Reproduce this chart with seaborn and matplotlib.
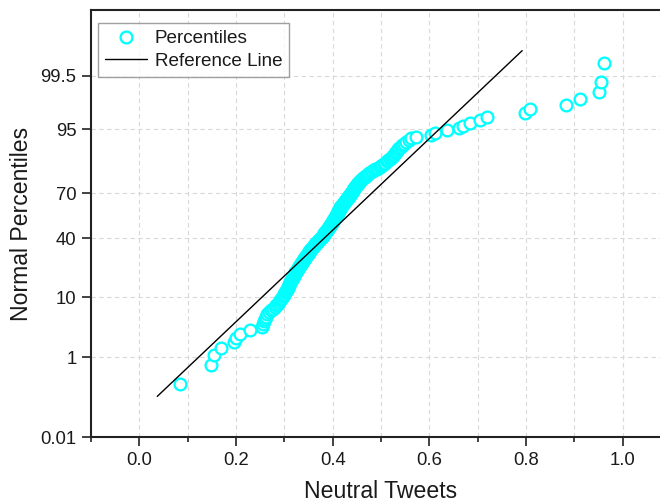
import numpy as np
import pandas as pd
import matplotlib
matplotlib.use("Agg")
import matplotlib.pyplot as plt
import seaborn as sns
from statistics import NormalDist
from matplotlib.ticker import MultipleLocator
from matplotlib.lines import Line2D

neutral_values = [
    0.085, 0.148, 0.155, 0.168, 0.195, 0.201, 0.209, 0.229,
    0.253, 0.256, 0.258, 0.260, 0.262, 0.265, 0.268, 0.272, 0.276, 0.280, 0.283, 0.286,
    0.289, 0.291, 0.293, 0.295, 0.297, 0.299, 0.300, 0.302, 0.303, 0.305,
    0.306, 0.307, 0.308, 0.309, 0.310, 0.311, 0.312, 0.313, 0.314, 0.315,
    0.316, 0.317, 0.318, 0.319, 0.320, 0.321, 0.322, 0.323, 0.324, 0.326,
    0.327, 0.328, 0.329, 0.330, 0.331, 0.332, 0.333, 0.334, 0.335, 0.336,
    0.337, 0.338, 0.339, 0.340, 0.341, 0.342, 0.343, 0.344, 0.345, 0.346,
    0.347, 0.348, 0.349, 0.350, 0.351, 0.352, 0.353, 0.354, 0.355, 0.356,
    0.358, 0.359, 0.360, 0.361, 0.362, 0.363, 0.364, 0.366, 0.367, 0.368,
    0.369, 0.370, 0.371, 0.372, 0.374, 0.375, 0.376, 0.377, 0.378, 0.379,
    0.380, 0.381, 0.382, 0.383, 0.384, 0.385, 0.386, 0.387, 0.388, 0.389,
    0.390, 0.391, 0.391, 0.392, 0.393, 0.394, 0.394, 0.395, 0.396, 0.397,
    0.398, 0.398, 0.399, 0.400, 0.401, 0.401, 0.402, 0.403, 0.404, 0.404,
    0.405, 0.406, 0.406, 0.407, 0.408, 0.408, 0.409, 0.410, 0.410, 0.411,
    0.412, 0.413, 0.413, 0.414, 0.415, 0.416, 0.416, 0.417, 0.418, 0.419,
    0.420, 0.421, 0.422, 0.423, 0.424, 0.425, 0.426, 0.427, 0.428, 0.429,
    0.430, 0.431, 0.432, 0.433, 0.434, 0.435, 0.436, 0.437, 0.438, 0.439,
    0.440, 0.441, 0.442, 0.443, 0.444, 0.445, 0.446, 0.447, 0.448, 0.450,
    0.451, 0.452, 0.453, 0.455, 0.456, 0.457, 0.459, 0.460, 0.462, 0.464,
    0.466, 0.468, 0.470, 0.473, 0.476, 0.479, 0.482, 0.485, 0.488, 0.491,
    0.494, 0.497, 0.500, 0.503, 0.506, 0.509, 0.512, 0.515, 0.518, 0.521,
    0.523, 0.525, 0.527, 0.529, 0.531, 0.533, 0.535, 0.538, 0.541, 0.544,
    0.548, 0.552, 0.557, 0.563, 0.572,
    0.603, 0.612, 0.636, 0.662, 0.670, 0.685, 0.705, 0.719,
    0.797, 0.809, 0.883, 0.912, 0.952, 0.955, 0.962,
]

# Reference line end points (x value, percentile)
ref_line_x = [0.037, 0.792]
ref_line_pct = [0.13, 99.87]

# Axis ticks
x_ticks = [0.0, 0.2, 0.4, 0.6, 0.8, 1.0]
x_tick_labels = ["0.0", "0.2", "0.4", "0.6", "0.8", "1.0"]
y_tick_pct = [0.01, 1, 10, 40, 70, 95, 99.5]
y_tick_labels = ["0.01", "1", "10", "40", "70", "95", "99.5"]
y_limits_pct = [0.01, 99.99]

legend_labels = ["Percentiles", "Reference Line"]

nd = NormalDist()


def probit(pct):
    return np.array([nd.inv_cdf(v / 100.0) for v in np.atleast_1d(pct)])


sns.set_theme(style="white")
plt.rcParams["font.family"] = ["Liberation Sans", "DejaVu Sans"]

CYAN = "#00FFFF"
TXT = "#1a1a1a"

fig = plt.figure(figsize=(6.6, 5.04), dpi=100)
ax = fig.add_axes([0.1379, 0.1329, 0.8788, 0.8472])

n = len(neutral_values)
ranks = np.arange(1, n + 1)
pct = (ranks - 0.375) / (n + 0.25) * 100.0  # Blom plotting positions
df = pd.DataFrame({"x": np.sort(neutral_values), "z": probit(pct)})

sns.scatterplot(data=df, x="x", y="z", ax=ax, marker="o", s=72,
                color="white", edgecolor=CYAN, linewidth=1.65,
                zorder=3, legend=False)

ref = pd.DataFrame({"x": ref_line_x, "z": probit(ref_line_pct)})
sns.lineplot(data=ref, x="x", y="z", ax=ax, color="black",
             linewidth=1.0, zorder=4, legend=False)

ax.set_xlim(-0.1, 1.1)
ax.set_ylim(*probit(y_limits_pct))

ax.set_xticks(x_ticks)
ax.set_xticklabels(x_tick_labels)
ax.xaxis.set_minor_locator(MultipleLocator(0.1))
ax.set_yticks(probit(y_tick_pct))
ax.set_yticklabels(y_tick_labels)

ax.tick_params(axis="both", which="both", direction="out", bottom=True,
               left=True, top=False, right=False, color="#222222",
               labelcolor=TXT, labelsize=13.3)
ax.tick_params(axis="x", which="major", length=6.5, width=1.2, pad=4)
ax.tick_params(axis="x", which="minor", length=3.8, width=1.2)
ax.tick_params(axis="y", which="major", length=6.5, width=1.2, pad=4)

grid_kw = dict(color="#d9d9d9", linestyle=(0, (4, 3)), linewidth=0.8)
ax.grid(True, axis="x", which="both", **grid_kw)
ax.grid(True, axis="y", which="major", **grid_kw)
ax.set_axisbelow(True)

for side in ["left", "bottom", "top", "right"]:
    ax.spines[side].set_visible(True)
    ax.spines[side].set_color("#222222")
    ax.spines[side].set_linewidth(1.5)

ax.set_xlabel("Neutral Tweets", fontsize=16.6, color=TXT, labelpad=8)
ax.set_ylabel("Normal Percentiles", fontsize=16.6, color=TXT, labelpad=5)

handles = [
    Line2D([], [], linestyle="none", marker="o", markersize=8.5,
           markerfacecolor="white", markeredgecolor=CYAN, markeredgewidth=1.65),
    Line2D([], [], color="black", linewidth=1.0),
]
leg = ax.legend(handles, legend_labels, loc="upper left",
                bbox_to_anchor=(0.012, 0.97), borderaxespad=0,
                fontsize=13.6, frameon=True, fancybox=False,
                edgecolor="#888888", handlelength=2.2, handletextpad=0.42,
                labelspacing=0.28, borderpad=0.38)
leg.get_frame().set_linewidth(1.0)
for t in leg.get_texts():
    t.set_color(TXT)

fig.savefig("out.png", dpi=100)
